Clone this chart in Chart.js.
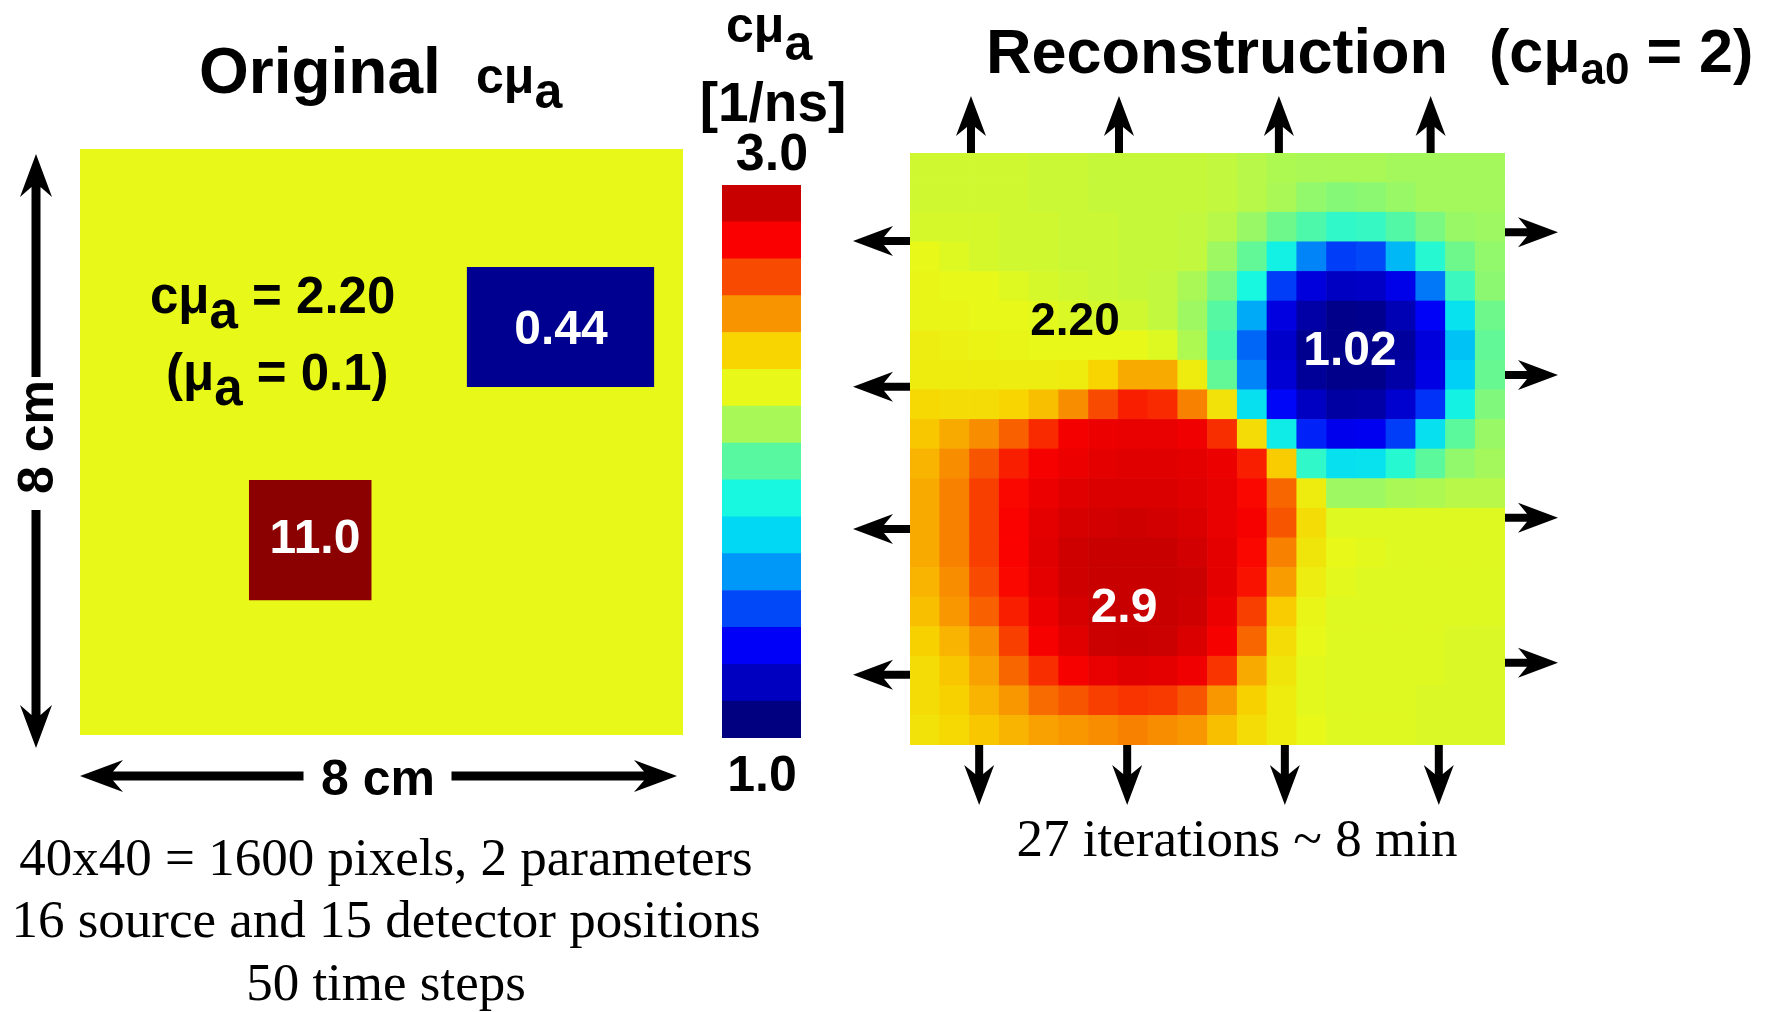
<!DOCTYPE html>
<html>
<head>
<meta charset="utf-8">
<script src="https://cdn.jsdelivr.net/npm/chart.js@4.4.1/dist/chart.umd.min.js"></script>
<style>
  html, body { margin: 0; padding: 0; background: #fff; }
  #page { position: relative; width: 1781px; height: 1012px; overflow: hidden; background: #fff; }
  canvas { position: absolute; }
  .t { position: absolute; white-space: nowrap; line-height: 1; color: #000; }
  .b { font-family: "Liberation Sans", Arial, sans-serif; font-weight: bold; }
  .s { font-family: "Liberation Serif", "Times New Roman", serif; }
</style>
</head>
<body>
<div id="page">
  <canvas id="cOrig" width="720" height="730" style="left:0;top:100px"></canvas>
  <canvas id="cBar" width="79" height="553" style="left:722px;top:185px"></canvas>
  <canvas id="cRec" width="740" height="760" style="left:840px;top:80px"></canvas>
</div>
<script>
// colour scale of the figure (bottom band -> top band), range 1.0 .. 3.0 1/ns
const cbMin = 1.0;
const cbMax = 3.0;
const cbTicks = ["1.0", "3.0"];
const cbarColors = [
  "#000080", "#0000c0", "#0000f8", "#0048f8", "#0098f8",
  "#00d8f4", "#18f8e0", "#58f8a0", "#a8f858", "#e8f818",
  "#f8d400", "#f89400", "#f84a00", "#fa0000", "#c80000"
];
const underColor = "#000090";
const overColor = "#8b0000";

// original phantom (cm), background + two inclusions
const origNames = ["inclusion 0.44", "inclusion 11.0", "background"];
const origValues = [0.44, 11.0, 2.20];
const origX0 = [5.13, 2.24, 0];
const origX1 = [7.62, 3.87, 8];
const origY0 = [4.75, 1.84, 0];
const origY1 = [6.39, 3.48, 8];

// reconstruction, 20 x 20 cells, first row = top of the image
const recon = [
  [2.15,2.15,2.15,2.15,2.14,2.14,2.13,2.13,2.13,2.13,2.12,2.10,2.08,2.07,2.07,2.07,2.06,2.06,2.06,2.06],
  [2.15,2.15,2.15,2.15,2.14,2.14,2.13,2.13,2.13,2.13,2.12,2.10,2.07,2.03,2.01,2.02,2.04,2.06,2.06,2.06],
  [2.16,2.16,2.16,2.15,2.15,2.14,2.14,2.13,2.13,2.12,2.10,2.04,1.97,1.91,1.85,1.86,1.92,1.99,2.04,2.05],
  [2.20,2.18,2.16,2.15,2.15,2.14,2.14,2.13,2.13,2.12,2.05,1.95,1.77,1.50,1.38,1.40,1.60,1.83,1.97,2.03],
  [2.21,2.20,2.20,2.18,2.16,2.15,2.14,2.13,2.12,2.07,1.99,1.80,1.38,1.20,1.14,1.15,1.23,1.48,1.87,2.02],
  [2.21,2.21,2.20,2.20,2.19,2.17,2.16,2.15,2.12,2.05,1.93,1.57,1.21,1.08,1.02,1.03,1.11,1.27,1.71,1.97],
  [2.24,2.23,2.22,2.21,2.20,2.20,2.20,2.20,2.18,2.08,1.90,1.45,1.16,1.03,1.02,1.02,1.06,1.20,1.62,1.95],
  [2.25,2.25,2.25,2.24,2.24,2.25,2.33,2.42,2.42,2.25,1.95,1.50,1.18,1.05,1.02,1.02,1.08,1.22,1.65,1.96],
  [2.32,2.30,2.30,2.33,2.38,2.48,2.60,2.68,2.66,2.50,2.28,1.70,1.28,1.14,1.07,1.08,1.17,1.36,1.78,2.00],
  [2.36,2.42,2.48,2.56,2.66,2.75,2.77,2.78,2.78,2.76,2.65,2.30,1.75,1.33,1.24,1.25,1.38,1.70,1.94,2.04],
  [2.40,2.48,2.58,2.68,2.74,2.77,2.79,2.80,2.80,2.79,2.77,2.68,2.35,1.85,1.70,1.71,1.83,1.94,2.03,2.06],
  [2.42,2.50,2.62,2.72,2.77,2.80,2.82,2.82,2.82,2.80,2.78,2.72,2.55,2.25,2.05,2.05,2.07,2.08,2.10,2.10],
  [2.42,2.50,2.62,2.73,2.79,2.83,2.84,2.85,2.84,2.82,2.78,2.74,2.58,2.30,2.18,2.18,2.18,2.18,2.18,2.18],
  [2.42,2.50,2.62,2.73,2.80,2.85,2.87,2.88,2.87,2.84,2.79,2.72,2.50,2.27,2.20,2.19,2.18,2.18,2.18,2.18],
  [2.40,2.48,2.60,2.72,2.79,2.85,2.88,2.91,2.90,2.86,2.79,2.70,2.45,2.24,2.19,2.18,2.18,2.18,2.18,2.18],
  [2.38,2.46,2.56,2.68,2.77,2.83,2.88,2.91,2.89,2.85,2.77,2.62,2.35,2.21,2.18,2.18,2.18,2.18,2.18,2.18],
  [2.34,2.40,2.48,2.62,2.74,2.80,2.86,2.88,2.86,2.82,2.74,2.55,2.30,2.20,2.18,2.18,2.18,2.18,2.17,2.17],
  [2.30,2.36,2.44,2.55,2.65,2.74,2.78,2.80,2.79,2.76,2.64,2.42,2.27,2.19,2.18,2.18,2.18,2.18,2.17,2.17],
  [2.30,2.34,2.40,2.46,2.54,2.58,2.62,2.64,2.63,2.58,2.46,2.34,2.25,2.19,2.18,2.18,2.18,2.17,2.17,2.17],
  [2.28,2.32,2.36,2.40,2.44,2.46,2.48,2.50,2.48,2.46,2.38,2.30,2.25,2.20,2.18,2.18,2.18,2.17,2.17,2.17]
];

// source / detector positions along the edges (cm)
const srcTopCm = [0.82, 2.81, 4.96, 7.0];
const detBottomCm = [0.93, 2.92, 5.04, 7.11];
const srcLeftCm = [6.81, 4.84, 2.92, 0.95];
const detRightCm = [6.93, 5.0, 3.07, 1.11];

function hexRgb(h) {
  return [1, 3, 5].map((i) => parseInt(h.slice(i, i + 2), 16));
}

// value -> colour, linear between the colorbar bands
function cmap(v) {
  if (v < cbMin) return underColor;
  if (v > cbMax) return overColor;
  const n = cbarColors.length;
  const p = ((v - cbMin) / (cbMax - cbMin)) * n;
  const i = Math.floor(p + 1e-9);
  if (i >= n - 1) return cbarColors[n - 1];
  const a = hexRgb(cbarColors[i]);
  const b = hexRgb(cbarColors[i + 1]);
  const f = p - i;
  const c = a.map((x, k) => Math.round(x + (b[k] - x) * f));
  return `rgb(${c[0]},${c[1]},${c[2]})`;
}

function drawArrow(ctx, x0, y0, x1, y1, st) {
  const len = Math.hypot(x1 - x0, y1 - y0);
  const ux = (x1 - x0) / len, uy = (y1 - y0) / len;
  const nx = -uy, ny = ux;
  const w = st.shaft / 2;
  const neck = st.head - st.notch;
  const pts = [
    [x0 + nx * w, y0 + ny * w],
    [x1 - ux * neck + nx * w, y1 - uy * neck + ny * w],
    [x1 - ux * st.head + nx * st.half, y1 - uy * st.head + ny * st.half],
    [x1, y1],
    [x1 - ux * st.head - nx * st.half, y1 - uy * st.head - ny * st.half],
    [x1 - ux * neck - nx * w, y1 - uy * neck - ny * w],
    [x0 - nx * w, y0 - ny * w]
  ];
  ctx.beginPath();
  pts.forEach((p, i) => (i ? ctx.lineTo(p[0], p[1]) : ctx.moveTo(p[0], p[1])));
  ctx.closePath();
  ctx.fill();
}

const noEvents = {
  animation: false,
  events: [],
  responsive: false,
  plugins: { legend: { display: false }, tooltip: { enabled: false } }
};

// ---- original ----
const dimArrows = {
  id: "dimArrows",
  afterDraw(chart) {
    const { ctx, chartArea: a } = chart;
    const st = { shaft: 9, head: 43, half: 16, notch: 10 };
    ctx.save();
    ctx.fillStyle = "#000";
    const yh = a.bottom + 41;
    const cx = (a.left + a.right) / 2 - 3;
    drawArrow(ctx, cx - 75, yh, a.left, yh, st);
    drawArrow(ctx, cx + 73, yh, a.right - 6, yh, st);
    const xv = a.left - 44;
    const cy = (a.top + a.bottom) / 2 - 2;
    drawArrow(ctx, xv, cy - 63, xv, a.top + 5, st);
    drawArrow(ctx, xv, cy + 70, xv, a.bottom + 13, st);
    ctx.restore();
  }
};

new Chart(document.getElementById("cOrig"), {
  type: "line",
  data: {
    datasets: origValues.map((v, i) => ({
      label: origNames[i],
      data: [{ x: origX0[i], y: origY1[i] }, { x: origX1[i], y: origY1[i] }],
      fill: { value: origY0[i] },
      backgroundColor: cmap(v),
      borderWidth: 0,
      pointRadius: 0
    }))
  },
  options: {
    ...noEvents,
    layout: { padding: { left: 80, top: 49, right: 37, bottom: 95 } },
    scales: {
      x: { type: "linear", min: 0, max: 8, display: false },
      y: { type: "linear", min: 0, max: 8, display: false }
    }
  },
  plugins: [dimArrows]
});

// ---- colorbar ----
const cbStep = (cbMax - cbMin) / cbarColors.length;
new Chart(document.getElementById("cBar"), {
  type: "bar",
  data: {
    labels: ["c\u03bca"],
    datasets: cbarColors.map((c, i) => ({
      data: [[cbMin + i * cbStep, cbMin + (i + 1) * cbStep]],
      backgroundColor: c,
      borderWidth: 0,
      grouped: false,
      barPercentage: 1,
      categoryPercentage: 1
    }))
  },
  options: {
    ...noEvents,
    layout: { padding: 0 },
    scales: {
      x: { display: false },
      y: { min: cbMin, max: cbMax, display: false }
    }
  }
});

// ---- reconstruction ----
const edgeArrows = {
  id: "edgeArrows",
  afterDraw(chart) {
    const { ctx, chartArea: a, scales } = chart;
    const xs = scales.xcm, ys = scales.ycm;
    const st = { shaft: 8, head: 40, half: 15, notch: 9 };
    const L = 57;
    ctx.save();
    ctx.fillStyle = "#000";
    srcTopCm.forEach((cm) => { const x = xs.getPixelForValue(cm); drawArrow(ctx, x, a.top, x, a.top - L, st); });
    detBottomCm.forEach((cm) => { const x = xs.getPixelForValue(cm); drawArrow(ctx, x, a.bottom, x, a.bottom + L + 3, st); });
    srcLeftCm.forEach((cm) => { const y = ys.getPixelForValue(cm); drawArrow(ctx, a.left, y, a.left - L, y, st); });
    detRightCm.forEach((cm) => { const y = ys.getPixelForValue(cm); drawArrow(ctx, a.right, y, a.right + L - 4, y, st); });
    ctx.restore();
  }
};

const rowsBottomUp = recon.slice().reverse();
new Chart(document.getElementById("cRec"), {
  type: "bar",
  data: {
    labels: recon[0].map((_, i) => i),
    datasets: rowsBottomUp.map((row) => ({
      data: row.map(() => 1),
      backgroundColor: row.map(cmap),
      borderWidth: 0,
      barPercentage: 1,
      categoryPercentage: 1,
      stack: "grid"
    }))
  },
  options: {
    ...noEvents,
    layout: { padding: { left: 70, top: 73, right: 75, bottom: 95 } },
    scales: {
      x: { stacked: true, display: false },
      y: { stacked: true, min: 0, max: recon.length, display: false },
      xcm: { type: "linear", axis: "x", min: 0, max: 8, offset: false, display: false },
      ycm: { type: "linear", axis: "y", min: 0, max: 8, offset: false, display: false }
    }
  },
  plugins: [edgeArrows]
});

// ---- texts ----
const page = document.getElementById("page");
function addText(html, x, base, size, cls, align, color) {
  const d = document.createElement("div");
  d.className = "t " + cls;
  d.innerHTML = html;
  const k = cls === "s" ? 0.838 : 0.846;
  d.style.fontSize = size + "px";
  d.style.left = x + "px";
  d.style.top = base - k * size + "px";
  if (align === "center") d.style.transform = "translateX(-50%)";
  if (color) d.style.color = color;
  page.appendChild(d);
  return d;
}
const sub = (s, dy, fs) => `<span style="position:relative;top:${dy}px;${fs ? "font-size:" + fs + "px" : ""}">${s}</span>`;

addText("Original", 199, 93, 64, "b");
addText("c&mu;" + sub("a", 15), 476, 93, 50, "b");

addText("c&mu;" + sub("a", 18), 726, 42, 50, "b");
addText("[1/ns]", 773, 122, 55, "b", "center");
addText(cbTicks[1], 772, 170, 52, "b", "center");
addText(cbTicks[0], 762, 791, 50, "b", "center");

addText("c&mu;" + sub("a", 15) + " = 2.20", 150, 313, 51, "b");
addText("(&mu;" + sub("a", 15) + " = 0.1)", 166, 390, 51, "b");
addText("0.44", 561, 345, 48, "b", "center", "#fff");
addText("11.0", 315, 554, 48, "b", "center", "#fff");
addText("8 cm", 378, 795, 50, "b", "center");
const v = addText("8 cm", 36, 0, 50, "b");
v.style.top = "437px";
v.style.transform = "translate(-50%,-50%) rotate(-90deg)";

addText("40x40 = 1600 pixels, 2 parameters", 386, 875, 53, "s", "center");
addText("16 source and 15 detector positions", 386, 937, 53, "s", "center");
addText("50 time steps", 386, 1000, 53, "s", "center");

addText("Reconstruction", 986, 73, 63, "b");
addText("(c&mu;" + sub("a0", 12, 44) + " = 2)", 1489, 73, 61, "b");
addText("2.20", 1075, 335, 46, "b", "center");
addText("1.02", 1350, 366, 48, "b", "center", "#fff");
addText("2.9", 1124, 623, 48, "b", "center", "#fff");
addText("27 iterations ~ 8 min", 1237, 856, 53, "s", "center");
</script>
</body>
</html>
